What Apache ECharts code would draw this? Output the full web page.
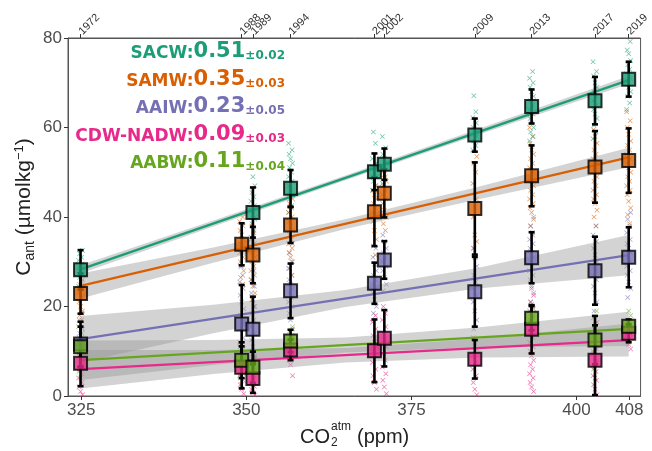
<!DOCTYPE html>
<html>
<head>
<meta charset="utf-8">
<title>Cant vs CO2</title>
<script src="https://cdn.jsdelivr.net/npm/echarts@6/dist/echarts.min.js"></script>
<style>
  html, body { margin: 0; padding: 0; background: #fff; }
  #chart { width: 652px; height: 451px; }
</style>
</head>
<body>
<div id="chart"></div>
<script>
// cruise years and their atmospheric CO2 (ppm)
var years   = ['1972', '1988', '1989', '1994', '2001', '2002', '2009', '2013', '2017', '2019'];
var yearCo2 = [324.9, 349.3, 351.0, 356.7, 369.4, 370.9, 384.6, 393.2, 402.8, 407.9];
var xTicks  = [325, 350, 375, 400, 408];

var names   = ['SACW', 'SAMW', 'AAIW', 'CDW-NADW', 'AABW'];
var colors  = ['#1b9e77', '#d95f02', '#7570b3', '#e7298a', '#66a61e'];
var trend   = ['0.51', '0.35', '0.23', '0.09', '0.11'];
var trendSd = ['0.02', '0.03', '0.05', '0.03', '0.04'];

// mean Cant per year (square) and its std (error bar)
var meanSACW = [28.2, null, 41.0, 46.4, 50.1, 51.8, 58.3, 64.7, 66.0, 70.8];
var sdSACW   = [4.4, null, 5.6, 4.1, 4.1, 3.5, 3.7, 3.8, 5.3, 3.9];
var meanSAMW = [22.9, 33.9, 31.5, 38.2, 41.2, 45.3, 41.9, 49.2, 51.2, 52.6];
var sdSAMW   = [4.5, 4.7, 6.3, 4.0, 7.7, 5.4, 10.3, 6.8, 8.0, 7.2];
var meanAAIW = [11.6, 16.1, 14.9, 23.5, 25.2, 30.4, 23.3, 30.9, 28.0, 31.0];
var sdAAIW   = [5.0, 8.7, 7.3, 6.1, 4.6, 4.2, 7.8, 5.7, 7.6, 6.7];
var meanCDW  = [7.3, 6.4, 3.9, 10.3, 10.1, 12.9, 8.2, 14.9, 8.0, 14.0];
var sdCDW    = [5.1, 4.7, 3.2, 2.3, 7.0, 6.3, 4.3, 5.4, 7.8, 2.0];
var meanAABW = [11.0, 8.0, 6.4, 12.3, null, null, null, 17.4, 12.5, 15.6];
var sdAABW   = [4.5, 4.0, 3.5, 2.5, null, null, null, 2.7, 5.4, 1.5];

// individual samples per year
var ptsSACW = [
  [24.5, 25.5, 26.5, 27.2, 28, 28.8, 29.5, 30.3, 31, 31.8, 32.5], [],
  [35.5, 37, 38.5, 39.5, 40.5, 41.5, 42.5, 43.5, 44.5, 45.5, 47, 49],
  [41, 42.5, 44, 45, 46, 47, 48, 49, 50, 51, 52, 53, 54, 55, 56.5],
  [46, 47, 48, 49, 50, 51, 52, 53, 56.5, 59],
  [47.5, 49, 50.5, 52, 53, 54, 55.5, 58],
  [55, 56, 57, 58, 59, 60, 61, 62.2, 63.5, 67.1],
  [57, 58, 59, 60, 61, 62, 63, 64, 65, 66, 67, 68, 69, 70, 71, 72.5],
  [57.5, 59, 60.5, 62, 63, 64, 65, 66, 67, 68, 69, 70, 71.5, 72.5, 74.7],
  [64, 65.5, 67, 68, 69, 70, 71, 72, 73, 74, 75, 76.5, 77.3, 79.2]
];
var ptsSAMW = [
  [17, 18, 19, 20, 21, 22, 23, 24, 25, 26, 27, 28, 29],
  [25, 26.5, 28, 29, 30, 31, 32, 33, 34, 35, 36, 37, 38, 39, 40],
  [20, 21.5, 23, 24.5, 26, 27, 28, 29, 30, 31, 32, 33, 34, 35, 36.5, 38, 40],
  [27, 28.5, 30, 31, 32, 33, 34, 35, 36, 37, 38, 39, 40, 41, 42, 43, 44, 45.5],
  [31.5, 33.5, 35, 37, 39, 40, 41, 42, 43, 44, 45, 46, 47, 49, 51],
  [37, 38.5, 40, 41.5, 43, 44, 45, 46, 47, 48, 49.5, 51],
  [31, 33, 34.5, 36, 40, 44, 47.5, 50, 52, 53.5],
  [36, 38, 39.5, 41, 42, 43, 44, 45, 46, 47, 48, 49, 50, 51, 52, 53, 54, 55, 56.5, 58, 60],
  [38, 40, 41.5, 43, 44, 45, 46, 47, 48, 49, 50, 51, 52, 53, 54, 55, 56.5, 58, 59.5],
  [38.5, 40.5, 42, 43.5, 45, 46, 47, 48, 49, 50, 51, 52, 53, 54, 55, 56, 57, 58.5, 60, 61.5, 63.5]
];
var ptsAAIW = [
  [7, 8, 9, 10, 11, 12, 13, 14, 15, 16, 17, 18.5],
  [5, 7, 9, 11, 13, 15, 16.5, 18, 19.5, 21, 22.5, 24, 25.5, 27, 29],
  [7, 9, 11, 12.5, 14, 15.5, 17, 18.5, 20, 21.5, 23, 24.5, 26, 28],
  [13, 15, 17, 18.5, 20, 21, 22, 23, 24, 25, 26, 27, 28.5, 30, 32, 34],
  [18.5, 20, 21.5, 23, 24, 25, 26, 27, 28, 29.5, 31, 33],
  [23.5, 25, 26.5, 28, 29, 30, 31, 32, 33, 34.5, 36],
  [15, 17, 19, 21, 22.5, 24, 25.5, 27, 29, 31, 33],
  [21, 23, 24.5, 26, 27, 28, 29, 30, 31, 32, 33, 34, 35, 36.5, 38, 40],
  [19, 21, 23, 24.5, 26, 27, 28, 29, 30, 31.5, 33, 34.5, 36, 38],
  [22, 24, 25.5, 27, 28, 29, 30, 31, 32, 33, 34, 35, 36.5, 38, 39.5, 41]
];
var ptsCDW = [
  [0.3, 1, 2, 3, 4, 5, 6, 7, 8, 9, 10, 11],
  [0.5, 1.5, 2.5, 3.5, 4.5, 5.5, 6.5, 7.5, 8.5, 9.5, 10.5, 12],
  [0.2, 0.8, 1.5, 2.2, 3, 3.8, 4.6, 5.5, 6.5, 7.5, 8.5, 10],
  [4.5, 7, 8, 9, 10, 11, 12, 13],
  [1.5, 3, 4.5, 6, 7.5, 9, 10, 11, 12, 13.5, 15, 16.5, 18],
  [0.5, 2, 3.5, 5, 6.5, 8, 9.5, 11, 12.5, 14, 15.5, 17, 18.5, 20],
  [0.3, 1.5, 3, 4.5, 6, 7.5, 9, 10.5, 12, 13],
  [1, 2, 3, 4, 5, 6, 7, 8, 9, 10, 11, 12, 13, 14, 15, 16, 17, 18, 19, 20, 21, 22.5, 24],
  [0.3, 1.5, 2.5, 3.5, 4.5, 5.5, 6.5, 7.5, 8.5, 9.5, 10.5, 12, 13.5, 15, 16.5],
  [10.5, 11.5, 12.5, 13, 13.5, 14, 14.5, 15, 15.5, 16.5]
];
var ptsAABW = [
  [4, 5.5, 7, 8, 9, 10, 11, 12, 13, 14, 15.5],
  [2.5, 4, 5, 6, 7, 8, 9, 10, 11.5],
  [2.5, 3.5, 4.5, 5.5, 6.5, 7.5, 8.5, 9.5],
  [9.5, 10.5, 11.5, 12.5, 13.5, 14.5, 15.5],
  [], [], [],
  [13.5, 14.5, 15.5, 16.5, 17.5, 18.5, 19.5, 20.5],
  [4, 6, 8, 10, 11.5, 13, 14.5, 16, 17.5, 19],
  [12, 13, 14, 15, 16, 17, 18, 19]
];

// fitted lines (value at first and last cruise) and confidence bands
var lineX = [324.9, 407.9];
var fitSACW = [28.3, 70.6];
var fitSAMW = [24.6, 53.3];
var fitAAIW = [12.7, 31.5];
var fitCDW  = [6.0, 12.5];
var fitAABW = [8.0, 15.0];

var bandX = [324.9, 345, 365, 385, 407.9];
var loSACW = [27.4, 37.9, 48.2, 58.3, 69.7], hiSACW = [29.2, 39.2, 49.3, 59.6, 71.5];
var loSAMW = [21.8, 29.8, 37.3, 43.9, 51.1], hiSAMW = [27.4, 33.2, 39.5, 46.7, 55.5];
var loAAIW = [7.5, 14.0, 19.9, 24.0, 27.0],  hiAAIW = [17.9, 20.4, 23.7, 28.6, 36.0];
var loCDW  = [1.7, 4.9, 7.5, 8.6, 8.8],      hiCDW  = [10.3, 10.3, 10.7, 12.8, 16.2];
var loAABW = [3.6, 6.9, 9.7, 10.9, 11.2],    hiAABW = [12.4, 12.5, 13.1, 15.3, 18.8];

var means = [meanSACW, meanSAMW, meanAAIW, meanCDW, meanAABW];
var sds   = [sdSACW, sdSAMW, sdAAIW, sdCDW, sdAABW];
var pts   = [ptsSACW, ptsSAMW, ptsAAIW, ptsCDW, ptsAABW];
var fits  = [fitSACW, fitSAMW, fitAAIW, fitCDW, fitAABW];
var los   = [loSACW, loSAMW, loAAIW, loCDW, loAABW];
var his   = [hiSACW, hiSAMW, hiAAIW, hiCDW, hiAABW];

var crossPath = 'path://M0,1L1,0L5,4L9,0L10,1L6,5L10,9L9,10L5,6L1,10L0,9L4,5Z';
var spread = [-2, 1, -1, 2, 0, -1.5, 1.5]; // small sideways offsets (px) so crosses form a column
var font = 'Liberation Sans';

function hexA(hex, a) {
  var n = parseInt(hex.slice(1), 16);
  return 'rgba(' + (n >> 16) + ',' + ((n >> 8) & 255) + ',' + (n & 255) + ',' + a + ')';
}

var series = [];

// sample crosses
names.forEach(function (nm, k) {
  var d = [];
  pts[k].forEach(function (arr, i) {
    arr.forEach(function (v, j) {
      d.push({ value: [yearCo2[i], v], symbolOffset: [spread[(j + k) % spread.length], 0] });
    });
  });
  series.push({
    type: 'scatter', name: nm + ' samples', data: d, z: 1,
    symbol: crossPath, symbolSize: 5, silent: true,
    itemStyle: { color: hexA(colors[k], 0.8) }
  });
});

// confidence band + fitted line, layer by layer
names.forEach(function (nm, k) {
  var d = bandX.map(function (x, i) { return [x, los[k][i], his[k][i]]; });
  series.push({
    type: 'custom', name: nm + ' band', data: d, z: 2, silent: true,
    renderItem: function (params, api) {
      if (params.dataIndex !== 0) return;
      var up = [], dn = [];
      d.forEach(function (p) {
        up.push(api.coord([p[0], p[2]]));
        dn.unshift(api.coord([p[0], p[1]]));
      });
      return { type: 'polygon', shape: { points: up.concat(dn) },
               style: { fill: 'rgba(150,150,150,0.42)' } };
    }
  });
  series.push({
    type: 'line', name: nm + ' fit', z: 2, silent: true,
    data: [[lineX[0], fits[k][0]], [lineX[1], fits[k][1]]],
    symbol: 'none', lineStyle: { color: colors[k], width: 2.3 }
  });
});

// error bars
names.forEach(function (nm, k) {
  var d = [];
  means[k].forEach(function (m, i) { if (m != null) d.push([yearCo2[i], m, sds[k][i]]); });
  series.push({
    type: 'custom', name: nm + ' err', data: d, z: 4, silent: true, clip: true,
    renderItem: function (params, api) {
      var x = api.value(0), m = api.value(1), s = api.value(2);
      var t = api.coord([x, m + s]), b = api.coord([x, m - s]);
      var st = { stroke: '#000', lineWidth: 2.6 };
      return { type: 'group', children: [
        { type: 'line', shape: { x1: t[0], y1: t[1], x2: b[0], y2: b[1] }, style: st },
        { type: 'line', shape: { x1: t[0] - 3, y1: t[1], x2: t[0] + 3, y2: t[1] }, style: st },
        { type: 'line', shape: { x1: b[0] - 3, y1: b[1], x2: b[0] + 3, y2: b[1] }, style: st }
      ] };
    }
  });
});

// mean squares
names.forEach(function (nm, k) {
  var d = [];
  means[k].forEach(function (m, i) { if (m != null) d.push([yearCo2[i], m]); });
  series.push({
    type: 'scatter', name: nm, data: d, z: 5,
    symbol: 'rect', symbolSize: 13,
    itemStyle: { color: colors[k], borderColor: '#000', borderWidth: 2 }
  });
});

// trend annotations
var notes = names.map(function (nm, k) {
  return {
    type: 'text', right: 652 - 285, top: 41 + k * 27.6, z: 10,
    style: {
      text: '{n|' + nm + ':}{v|' + trend[k] + '}{e|±' + trendSd[k] + '}',
      fill: colors[k],
      rich: {
        n: { fontFamily: 'DejaVu Sans', fontWeight: 'bold', fontSize: 17, fill: colors[k], verticalAlign: 'bottom', lineHeight: 22 },
        v: { fontFamily: 'DejaVu Sans', fontWeight: 'bold', fontSize: 21, fill: colors[k], verticalAlign: 'bottom', lineHeight: 22 },
        e: { fontFamily: 'DejaVu Sans', fontWeight: 'bold', fontSize: 12, fill: colors[k], verticalAlign: 'bottom', lineHeight: 18 }
      }
    }
  };
});

// axis titles: CO2^atm (ppm) and Cant (µmolkg-1)
var titles = [
  { type: 'text', left: 300, top: 427, style: { text: 'CO', font: '20px "' + font + '"', fill: '#222' } },
  { type: 'text', left: 331, top: 421, style: { text: 'atm', font: '12px "' + font + '"', fill: '#222' } },
  { type: 'text', left: 331, top: 437, style: { text: '2', font: '12px "' + font + '"', fill: '#222' } },
  { type: 'text', left: 357, top: 427, style: { text: '(ppm)', font: '20px "' + font + '"', fill: '#222' } },
  { type: 'text', x: 24, y: 207, rotation: Math.PI / 2,
    style: {
      text: '{a|C}{s|ant}{a| (µmolkg}{p|−1}{a|)}', align: 'center', verticalAlign: 'middle', fill: '#222',
      rich: {
        a: { fontFamily: font, fontSize: 21, fill: '#222' },
        s: { fontFamily: font, fontSize: 14, fill: '#222', padding: [12, 0, 0, 0] },
        p: { fontFamily: font, fontSize: 13, fill: '#222', padding: [0, 0, 10, 0] }
      }
    } }
];

function nearestYear(v) {
  var best = 0;
  yearCo2.forEach(function (c, i) { if (Math.abs(c - v) < Math.abs(yearCo2[best] - v)) best = i; });
  return years[best];
}

var option = {
  animation: false,
  backgroundColor: '#fff',
  grid: { left: 68, right: 6, top: 38, bottom: 55, show: true, borderColor: '#555', borderWidth: 1 },
  xAxis: [{
    type: 'value', min: 323, max: 409.7, position: 'bottom',
    axisLine: { show: true, onZero: false, lineStyle: { color: '#555' } },
    axisTick: { show: true, length: 4, customValues: xTicks, lineStyle: { color: '#333' } },
    axisLabel: { customValues: xTicks, fontFamily: font, fontSize: 17, color: '#4d4d4d', margin: 6 },
    splitLine: { show: false }
  }, {
    type: 'value', min: 323, max: 409.7, position: 'top',
    axisLine: { show: true, onZero: false, lineStyle: { color: '#555' } },
    axisTick: { show: true, length: 4, customValues: yearCo2, lineStyle: { color: '#333' } },
    axisLabel: { customValues: yearCo2, rotate: -45, align: 'left', verticalAlign: 'middle',
                 fontFamily: font, fontSize: 11, color: '#333', margin: 5,
                 formatter: function (v) { return nearestYear(v); } },
    splitLine: { show: false }
  }],
  yAxis: {
    type: 'value', min: 0, max: 80, interval: 20,
    axisLine: { show: true, lineStyle: { color: '#555' } },
    axisTick: { show: true, length: 4, lineStyle: { color: '#333' } },
    axisLabel: { fontFamily: font, fontSize: 17, color: '#4d4d4d', margin: 6 },
    splitLine: { show: false }
  },
  graphic: notes.concat(titles),
  series: series
};

var chart = echarts.init(document.getElementById('chart'), null, { renderer: 'canvas' });
chart.setOption(option);
</script>
</body>
</html>
